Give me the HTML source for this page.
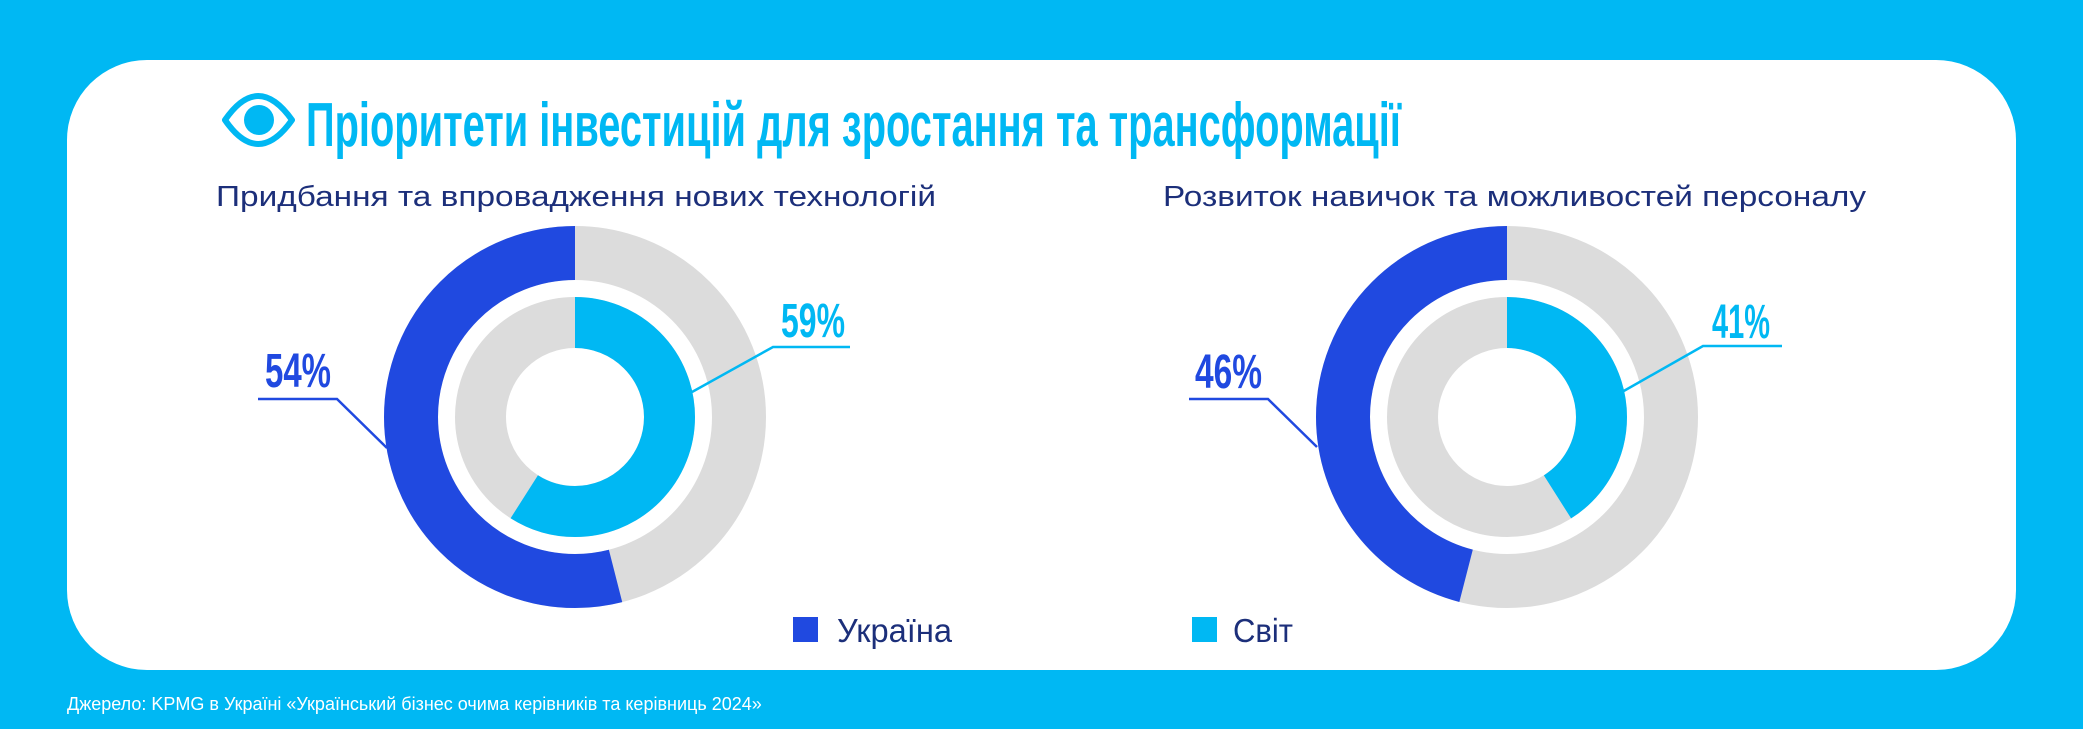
<!DOCTYPE html>
<html><head><meta charset="utf-8"><style>
html,body{margin:0;padding:0;background:#00b8f3;}
svg{display:block;}
text{font-family:"Liberation Sans",sans-serif;}
</style></head><body>
<svg width="2083" height="729" viewBox="0 0 2083 729" xmlns="http://www.w3.org/2000/svg">
<rect x="0" y="0" width="2083" height="729" fill="#00b8f3"/>
<rect x="67" y="60" width="1949" height="610" rx="80" ry="80" fill="#ffffff"/>
<!-- eye icon -->
<path d="M225 120 Q258 72 292 120 Q258 168 225 120 Z" fill="none" stroke="#00b8f3" stroke-width="6" stroke-linejoin="round"/>
<circle cx="259" cy="120" r="15" fill="#00b8f3"/>
<text x="306" y="146" font-size="62" font-weight="bold" fill="#00b8f3" textLength="1095" lengthAdjust="spacingAndGlyphs">Пріоритети інвестицій для зростання та трансформації</text>
<text x="216" y="206" font-size="29" fill="#1c2f7a" textLength="720" lengthAdjust="spacingAndGlyphs">Придбання та впровадження нових технологій</text>
<text x="1163" y="206" font-size="29" fill="#1c2f7a" textLength="703" lengthAdjust="spacingAndGlyphs">Розвиток навичок та можливостей персоналу</text>
<!-- left donut -->
<g transform="rotate(-90 575 417)">
<circle cx="575" cy="417" r="164" fill="none" stroke="#dcdcdc" stroke-width="54"/>
<circle cx="575" cy="417" r="164" fill="none" stroke="#2049e0" stroke-width="54" stroke-dasharray="0 474 556.4"/>
<circle cx="575" cy="417" r="94.5" fill="none" stroke="#dcdcdc" stroke-width="51"/>
<circle cx="575" cy="417" r="94.5" fill="none" stroke="#00b8f3" stroke-width="51" stroke-dasharray="350.3 593.8"/>
</g>
<!-- right donut -->
<g transform="rotate(-90 1507 417)">
<circle cx="1507" cy="417" r="164" fill="none" stroke="#dcdcdc" stroke-width="54"/>
<circle cx="1507" cy="417" r="164" fill="none" stroke="#2049e0" stroke-width="54" stroke-dasharray="0 556.4 474"/>
<circle cx="1507" cy="417" r="94.5" fill="none" stroke="#dcdcdc" stroke-width="51"/>
<circle cx="1507" cy="417" r="94.5" fill="none" stroke="#00b8f3" stroke-width="51" stroke-dasharray="243.5 593.8"/>
</g>
<!-- labels -->
<polyline points="258,399 337,399 387,448" fill="none" stroke="#2049e0" stroke-width="2.5"/>
<text x="265" y="387" font-size="48" font-weight="bold" fill="#2049e0" textLength="66" lengthAdjust="spacingAndGlyphs">54%</text>
<polyline points="850,347 773,347 692,392" fill="none" stroke="#00b8f3" stroke-width="2.5"/>
<text x="781" y="337" font-size="48" font-weight="bold" fill="#00b8f3" textLength="64" lengthAdjust="spacingAndGlyphs">59%</text>
<polyline points="1189,399 1268,399 1317,447" fill="none" stroke="#2049e0" stroke-width="2.5"/>
<text x="1195" y="388" font-size="48" font-weight="bold" fill="#2049e0" textLength="67" lengthAdjust="spacingAndGlyphs">46%</text>
<polyline points="1782,346 1703,346 1622,392" fill="none" stroke="#00b8f3" stroke-width="2.5"/>
<text x="1712" y="338" font-size="48" font-weight="bold" fill="#00b8f3" textLength="58" lengthAdjust="spacingAndGlyphs">41%</text>
<!-- legend -->
<rect x="793" y="617" width="25" height="25" fill="#2049e0"/>
<text x="837" y="642" font-size="33" fill="#1c2f7a" textLength="115" lengthAdjust="spacingAndGlyphs">Україна</text>
<rect x="1192" y="617" width="25" height="25" fill="#00b8f3"/>
<text x="1233" y="642" font-size="33" fill="#1c2f7a" textLength="60" lengthAdjust="spacingAndGlyphs">Світ</text>
<text x="67" y="710" font-size="18" fill="#ffffff">Джерело: KPMG в Україні «Український бізнес очима керівників та керівниць 2024»</text>
</svg>
</body></html>
